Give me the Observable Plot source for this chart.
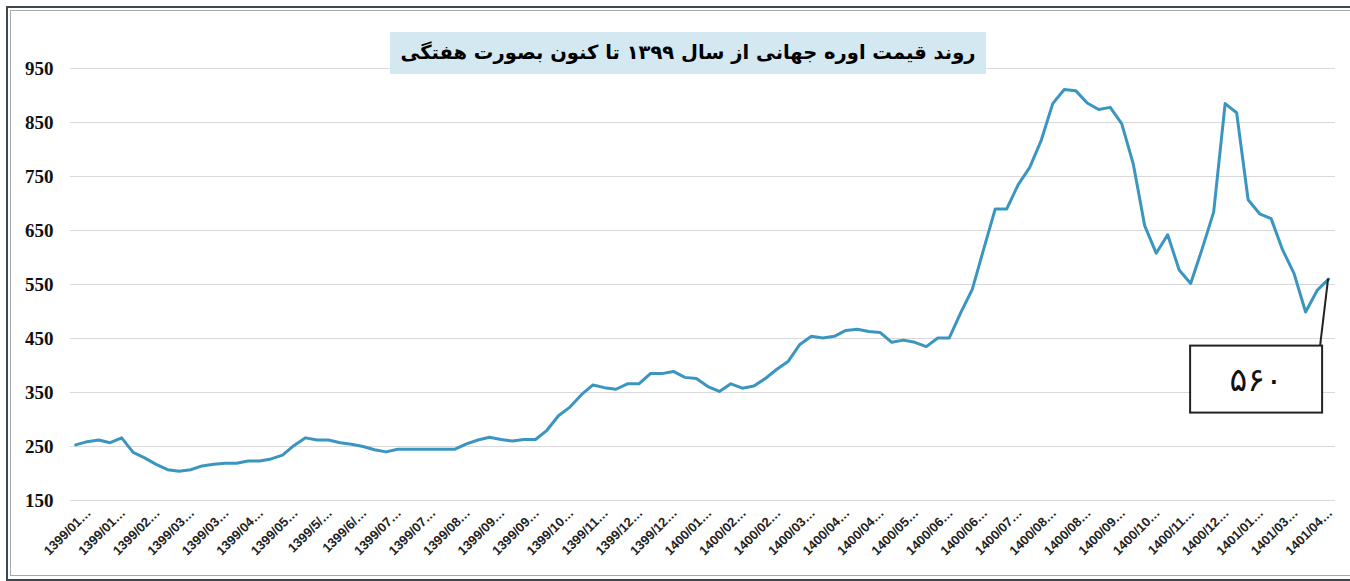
<!DOCTYPE html>
<html><head><meta charset="utf-8">
<script src="https://cdn.jsdelivr.net/npm/d3@7"></script>
<script src="https://cdn.jsdelivr.net/npm/@observablehq/plot@0.6"></script>
<style>
html,body{margin:0;padding:0;background:#fff;width:1350px;height:581px;overflow:hidden;}
#wrap{position:relative;width:1350px;height:581px;overflow:hidden;}
#chart{position:absolute;left:0;top:0;}
.f1{position:absolute;left:6px;top:6px;width:1400px;height:575px;border:2px solid #3e4852;box-sizing:border-box;z-index:3;pointer-events:none;}
.f2{position:absolute;left:10px;top:10px;width:1400px;height:566px;border:1px solid #a3a9ae;box-sizing:border-box;z-index:3;pointer-events:none;}
#title{position:absolute;left:390px;top:32px;width:596px;height:42px;background:#d4e8f1;z-index:2;white-space:nowrap;
  font-family:"DejaVu Sans",sans-serif;font-weight:bold;font-size:19.5px;line-height:42px;text-align:center;direction:rtl;color:#000;}
</style>
</head><body>
<div id="wrap">
  <div class="f1"></div><div class="f2"></div>
  <div id="title"></div>
  <div id="chart"></div>
</div>
<script>
const titleText = "روند قیمت اوره جهانی از سال ۱۳۹۹ تا کنون بصورت هفتگی";
const calloutText = "۵۶۰";
const yTicks = [150, 250, 350, 450, 550, 650, 750, 850, 950];
const tickLabels = [
  "1399/01…","1399/01…","1399/02…","1399/03…","1399/03…","1399/04…","1399/05…","1399/5/…","1399/6/…",
  "1399/07…","1399/07…","1399/08…","1399/09…","1399/09…","1399/10…","1399/11…","1399/12…","1399/12…",
  "1400/01…","1400/02…","1400/02…","1400/03…","1400/04…","1400/04…","1400/05…","1400/06…","1400/06…",
  "1400/07…","1400/08…","1400/08…","1400/09…","1400/10…","1400/11…","1400/12…",
  "1401/01…","1401/03…","1401/04…"
];
const labelEvery = 3;
const prices = [
  253,259,262,257,266,239,229,217,207,204,207,214,217,219,219,223,223,227,234,252,
  266,262,262,257,254,250,244,240,245,245,245,245,245,245,255,262,267,263,260,263,
  263,280,307,323,346,364,359,356,366,366,385,385,389,378,376,361,352,366,358,362,
  376,393,408,439,454,451,454,465,467,463,461,443,447,443,435,451,451,498,541,616,
  690,690,735,767,817,885,911,909,886,874,878,848,774,659,608,642,577,552,616,684,
  885,868,707,681,672,614,570,499,539,560
];

document.getElementById("title").textContent = titleText;

const points = prices.map((v, i) => ({i, v}));
const ticks = tickLabels.map((label, k) => ({i: k * labelEvery, label}));
const last = points[points.length - 1];

function callout(index, scales) {
  const px = scales.x(last.i), py = scales.y(last.v);
  const g = d3.create("svg:g");
  g.append("line").attr("x1", px).attr("y1", py).attr("x2", px - 8).attr("y2", py + 67)
    .attr("stroke", "#222").attr("stroke-width", 2);
  g.append("rect").attr("x", px - 138).attr("y", py + 67).attr("width", 132).attr("height", 67)
    .attr("fill", "#fff").attr("stroke", "#222").attr("stroke-width", 2);
  g.append("text").attr("x", px - 72).attr("y", py + 101).attr("text-anchor", "middle")
    .attr("dominant-baseline", "central").attr("font-family", "DejaVu Sans").attr("font-size", 33)
    .attr("fill", "#111").text(calloutText);
  return g.node();
}

const chart = Plot.plot({
  width: 1350, height: 581,
  marginLeft: 70, marginRight: 15, marginTop: 68, marginBottom: 81,
  style: {background: "transparent", overflow: "visible"},
  x: {domain: [-0.45, 109.6], axis: null},
  y: {domain: [150, 950], axis: null},
  marks: [
    Plot.gridY(yTicks, {stroke: "#d9d9d9", strokeOpacity: 1, strokeWidth: 1.2}),
    Plot.axisY(yTicks, {tickSize: 0, tickPadding: 17, fontSize: 19, fontFamily: "Liberation Serif",
      fontWeight: "bold", fill: "#111", tickFormat: d => String(d), label: null}),
    Plot.line(points, {x: "i", y: "v", stroke: "#3a96c1", strokeWidth: 3, strokeLinejoin: "round"}),
    Plot.text(ticks, {x: "i", text: "label", frameAnchor: "bottom", rotate: -45, textAnchor: "end",
      dx: 16, dy: 13, fontSize: 13, fontWeight: "bold", fontFamily: "Liberation Sans", fill: "#222"}),
    callout
  ]
});
document.getElementById("chart").appendChild(chart);
</script>
</body></html>
